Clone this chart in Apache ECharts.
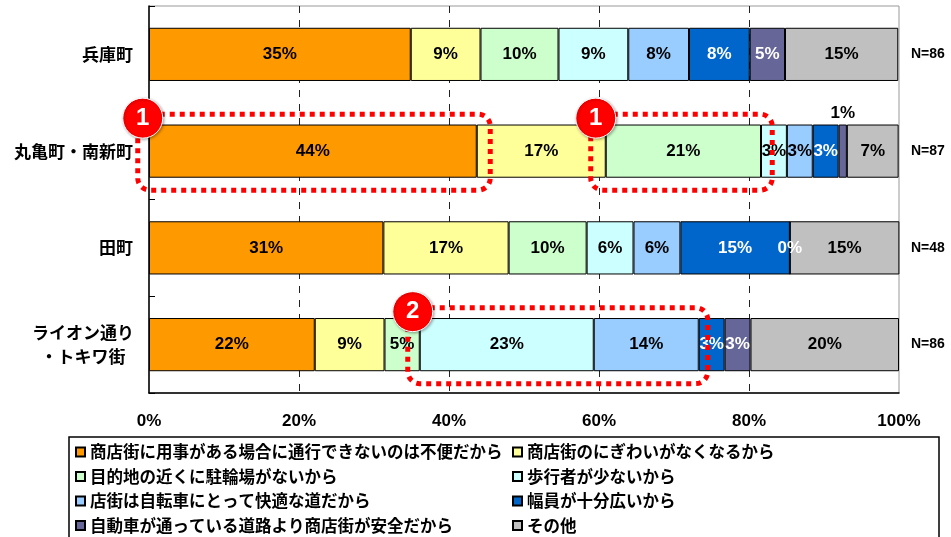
<!DOCTYPE html>
<html>
<head>
<meta charset="utf-8">
<script src="https://cdn.jsdelivr.net/npm/echarts@6/dist/echarts.min.js"></script>
<style>
html,body{margin:0;padding:0;background:#fff;}
#chart{width:951px;height:537px;}
</style>
</head>
<body>
<div id="chart"></div>
<script>
var categories = ['兵庫町', '丸亀町・南新町', '田町', 'ライオン通り\n・トキワ街'];
var nLabels = ['N=86', 'N=87', 'N=48', 'N=86'];
var xTicks = [0, 20, 40, 60, 80, 100];
var seriesNames = [
  '商店街に用事がある場合に通行できないのは不便だから',
  '商店街のにぎわいがなくなるから',
  '目的地の近くに駐輪場がないから',
  '歩行者が少ないから',
  '店街は自転車にとって快適な道だから',
  '幅員が十分広いから',
  '自動車が通っている道路より商店街が安全だから',
  'その他'
];
var colors = ['#FF9900', '#FFFF99', '#CCFFCC', '#CCFFFF', '#99CCFF', '#0066CC', '#666699', '#C0C0C0'];
var labelColors = ['#000', '#000', '#000', '#000', '#000', '#fff', '#fff', '#000'];

var inconvenient = [34.9, 43.7, 31.25, 22.1];
var lessLively   = [9.3, 17.2, 16.7, 9.3];
var noParking    = [10.4, 20.7, 10.4, 4.7];
var fewWalkers   = [9.3, 3.45, 6.25, 23.2];
var comfortable  = [8.1, 3.45, 6.25, 14.0];
var wideRoad     = [8.1, 3.45, 14.6, 3.45];
var saferThanCar = [4.7, 1.1, 0, 3.45];
var other        = [15.1, 6.9, 14.6, 19.8];
var allValues = [inconvenient, lessLively, noParking, fewWalkers, comfortable, wideRoad, saferThanCar, other];

// annotation boxes (data coordinates along x, category index)
var annotations = [
  { cat: 1, from: -1.5, to: 45.5, num: '1' },
  { cat: 1, from: 58.9, to: 83.1, num: '1' },
  { cat: 3, from: 34.5, to: 74.5, num: '2' }
];

var chart = echarts.init(document.getElementById('chart'), null, { renderer: 'canvas' });

var valueFont = 'Liberation Sans, Arial, sans-serif';

var series = allValues.map(function (vals, i) {
  return {
    name: seriesNames[i],
    type: 'bar',
    stack: 'total',
    barWidth: '55%',
    yAxisIndex: 0,
    itemStyle: { color: colors[i], borderColor: '#000', borderWidth: 1 },
    label: {
      show: true,
      position: 'inside',
      color: labelColors[i],
      fontSize: 17,
      fontWeight: 'bold',
      fontFamily: valueFont,
      formatter: function (p) { return Math.round(p.value) + '%'; }
    },
    emphasis: { disabled: true },
    data: vals.map(function (v, j) {
      if (i === 6 && j === 1) {
        return { value: v, label: { position: 'top', color: '#000', distance: 3 } };
      }
      return v;
    })
  };
});

var legendText = { fontSize: 16.5, fontWeight: 'bold', color: '#000', fontFamily: 'Noto Sans CJK JP', lineHeight: 20 };

chart.setOption({
  animation: false,
  grid: { left: 149, right: 52, top: 6, bottom: 144, show: true, borderColor: '#999', borderWidth: 1 },
  xAxis: {
    type: 'value', min: xTicks[0], max: xTicks[xTicks.length - 1], interval: 20,
    axisLine: { show: true, lineStyle: { color: '#000', width: 1.5 } },
    axisTick: { show: false },
    axisLabel: { formatter: '{value}%', fontSize: 17, fontWeight: 'bold', color: '#000', margin: 20, fontFamily: 'Liberation Sans, Arial, sans-serif' },
    splitLine: { show: true, showMinLine: false, showMaxLine: false, lineStyle: { color: '#222', type: [7, 7], width: 1 } }
  },
  yAxis: [{
    type: 'category', inverse: true, data: categories,
    axisLine: { show: true, lineStyle: { color: '#000', width: 1.5 } },
    axisTick: { show: true, inside: true, length: 6, lineStyle: { color: '#000' } },
    axisLabel: {
      fontSize: 17, fontWeight: 'bold', color: '#000', fontFamily: 'Noto Sans CJK JP', margin: 16,
      formatter: function (v) {
        if (v.indexOf('\n') >= 0) {
          return v.split('\n').map(function (s) { return '{c|' + s + '}'; }).join('\n');
        }
        return v;
      },
      rich: { c: { width: 100, align: 'center', fontSize: 17, fontWeight: 'bold', color: '#000', fontFamily: 'Noto Sans CJK JP', lineHeight: 24 } }
    }
  }, {
    type: 'category', inverse: true, position: 'right', data: nLabels,
    axisLine: { show: false }, axisTick: { show: false },
    axisLabel: { fontSize: 14, fontWeight: 'bold', color: '#000', margin: 12, fontFamily: 'Liberation Sans, Arial, sans-serif' }
  }],
  legend: [{
    orient: 'vertical', left: 75, top: 442, padding: 0, itemGap: 4.5,
    itemWidth: 9, itemHeight: 9, icon: 'rect', selectedMode: false,
    textStyle: legendText,
    data: [seriesNames[0], seriesNames[2], seriesNames[4], seriesNames[6]]
  }, {
    orient: 'vertical', left: 512, top: 442, padding: 0, itemGap: 4.5,
    itemWidth: 9, itemHeight: 9, icon: 'rect', selectedMode: false,
    textStyle: legendText,
    data: [seriesNames[1], seriesNames[3], seriesNames[5], seriesNames[7]]
  }],
  series: series
});

// decorations: legend frame, red dotted annotation boxes and numbered badges
var graphics = [{
  type: 'rect', silent: true, z: 0,
  shape: { x: 69, y: 437, width: 870, height: 110 },
  style: { fill: null, stroke: '#000', lineWidth: 1.5 }
}];
annotations.forEach(function (a) {
  var p1 = chart.convertToPixel({ xAxisIndex: 0, yAxisIndex: 0 }, [a.from, a.cat]);
  var p2 = chart.convertToPixel({ xAxisIndex: 0, yAxisIndex: 0 }, [a.to, a.cat]);
  var top = p1[1] - 37, bottom = p1[1] + 39;
  graphics.push({
    type: 'rect', silent: true, z: 100,
    shape: { x: p1[0], y: top, width: p2[0] - p1[0], height: bottom - top, r: 12 },
    style: { fill: null, stroke: '#FF0000', lineWidth: 5, lineDash: [5, 5] }
  });
  graphics.push({
    type: 'circle', silent: true, z: 101,
    shape: { cx: p1[0] + 5, cy: top + 4, r: 20 },
    style: { fill: '#FF0000', stroke: '#fff', lineWidth: 1, shadowBlur: 3, shadowColor: 'rgba(0,0,0,0.35)', shadowOffsetX: 1, shadowOffsetY: 1 }
  });
  graphics.push({
    type: 'text', silent: true, z: 102,
    x: p1[0] + 5, y: top + 4,
    style: { text: a.num, fill: '#fff', font: 'bold 24px Liberation Sans, Arial, sans-serif', align: 'center', verticalAlign: 'middle' }
  });
});
chart.setOption({ graphic: graphics });
</script>
</body>
</html>
